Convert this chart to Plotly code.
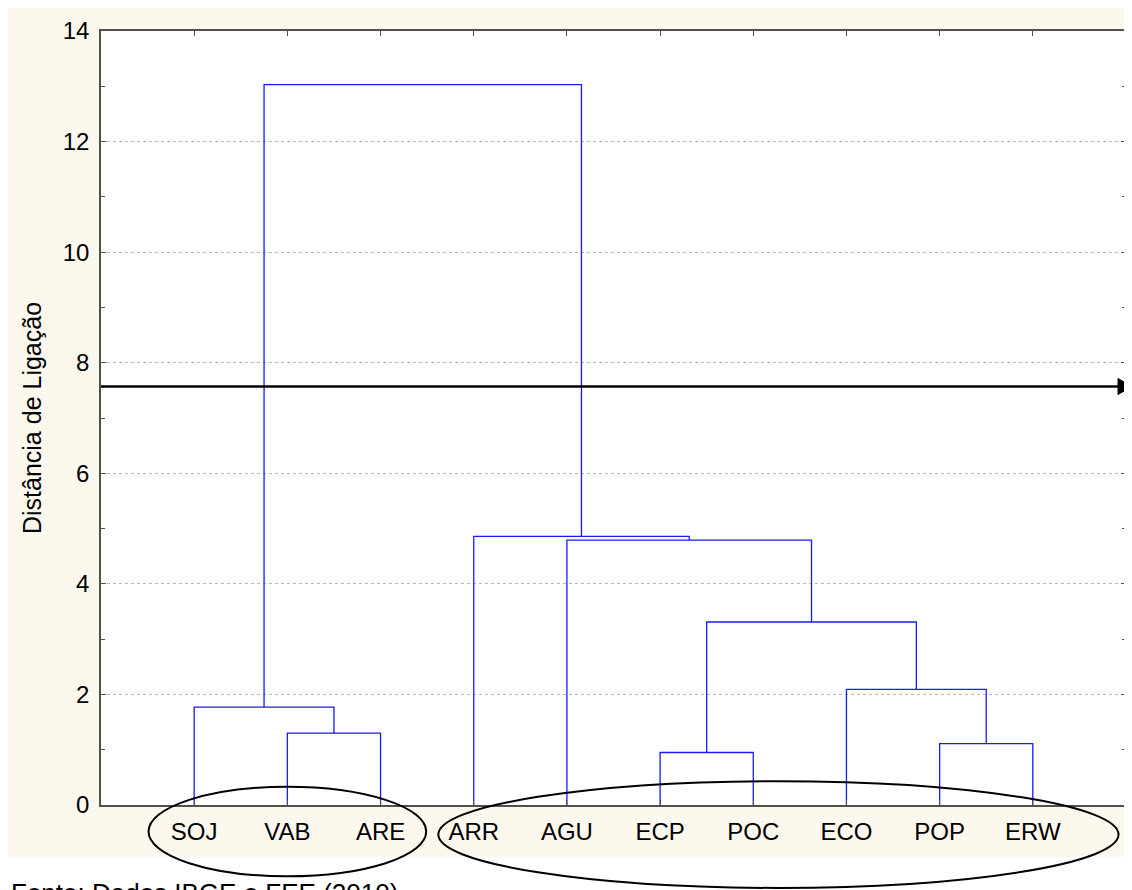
import plotly.graph_objects as go

# ---- data ----
labels = ["SOJ", "VAB", "ARE", "ARR", "AGU", "ECP", "POC", "ECO", "POP", "ERW"]
# linkage: (child_a, child_b, height); new cluster ids start at len(labels)
merge_a = [1, 0, 5, 8, 7, 12, 4, 3, 11]
merge_b = [2, 10, 6, 9, 13, 14, 15, 16, 17]
merge_h = [1.30, 1.77, 0.95, 1.11, 2.09, 3.31, 4.79, 4.86, 13.03]
cut_height = 7.57
y_ticks = [0, 2, 4, 6, 8, 10, 12, 14]
# ellipses around the groups (x extents, y extents in data units)
ellipse_x = [(0.51, 3.49), (3.62, 10.92)]
ellipse_y = [(-1.29, 0.33), (-1.50, 0.43)]

XMAX = len(labels) + 1
YMAX = 14

# ---- build dendrogram polylines ----
xpos = {i: i + 1 for i in range(len(labels))}
ypos = {i: 0.0 for i in range(len(labels))}
xs, ys = [], []
for k, (a, b, h) in enumerate(zip(merge_a, merge_b, merge_h)):
    nid = len(labels) + k
    xs += [xpos[a], xpos[a], xpos[b], xpos[b], None]
    ys += [ypos[a], h, h, ypos[b], None]
    xpos[nid] = (xpos[a] + xpos[b]) / 2
    ypos[nid] = h

fig = go.Figure()
fig.add_trace(go.Scatter(x=xs, y=ys, mode="lines",
                         line=dict(color="#1a1aff", width=1.3),
                         hoverinfo="skip", showlegend=False, cliponaxis=False))

# page body has an 8px margin, so the figure starts at (8, 8) of the window
OFF = 8
W, H = 1132 - OFF, 890 - OFF
L, R, T, B = 93, 6, 23, 85
pw, ph = W - L - R, H - T - B

def px_to_paper_x(p):  # p in window pixels
    return (p - OFF - L) / pw

def px_to_paper_y(p):
    return (H - B - (p - OFF)) / ph

shapes = [
    dict(type="rect", xref="paper", yref="paper", layer="below",
         x0=px_to_paper_x(0), x1=px_to_paper_x(1140),
         y0=px_to_paper_y(857), y1=px_to_paper_y(0),
         fillcolor="#fdf8ee", line=dict(width=0)),
    dict(type="rect", xref="paper", yref="paper", layer="below",
         x0=0, x1=1, y0=0, y1=1, fillcolor="white", line=dict(width=0)),
]
for (x0, x1), (y0, y1) in zip(ellipse_x, ellipse_y):
    shapes.append(dict(type="circle", xref="paper", yref="paper",
                       x0=x0 / XMAX, x1=x1 / XMAX, y0=y0 / YMAX, y1=y1 / YMAX,
                       line=dict(color="black", width=2)))

# cut line with arrow head
yc = cut_height / YMAX
head_len, head_half = 14, 8
tip = px_to_paper_x(1132)
base = px_to_paper_x(1132 - head_len)
hh = head_half / ph
shapes.append(dict(type="line", xref="paper", yref="paper",
                   x0=0, x1=base, y0=yc, y1=yc,
                   line=dict(color="black", width=2.6)))
shapes.append(dict(type="path", xref="paper", yref="paper",
                   path=f"M {base},{yc - hh} L {tip},{yc} L {base},{yc + hh} Z",
                   fillcolor="black", line=dict(color="black", width=1)))

annotations = [
    dict(xref="paper", yref="paper", x=px_to_paper_x(9), y=px_to_paper_y(876),
         xanchor="left", yanchor="top", showarrow=False,
         text="Fonte: Dados IBGE e FEE (2010)",
         font=dict(family="Liberation Sans, Arial", size=26, color="black")),
]

axis_line = dict(showline=True, linecolor="#505050", linewidth=1.5, mirror="ticks",
                 automargin=False)

fig.update_layout(
    width=W, height=H,
    margin=dict(l=L, r=R, t=T, b=B, pad=0),
    paper_bgcolor="white", plot_bgcolor="white",
    font=dict(family="Liberation Sans, Arial", color="black"),
    shapes=shapes, annotations=annotations,
    xaxis=dict(range=[0, XMAX], tickmode="array",
               tickvals=list(range(1, len(labels) + 1)), ticktext=labels,
               ticks="inside", ticklen=5, tickcolor="#505050",
               showgrid=False, zeroline=False, ticklabelstandoff=4,
               tickfont=dict(size=24), **axis_line),
    yaxis=dict(range=[0, YMAX], tickmode="array", tickvals=y_ticks,
               ticks="inside", ticklen=5, tickcolor="#505050",
               showgrid=True, gridcolor="#b8b8b8", griddash="dot", gridwidth=1,
               zeroline=False, tickfont=dict(size=24), ticklabelstandoff=5,
               minor=dict(dtick=1, ticks="inside", ticklen=4, tickcolor="#505050", showgrid=False),
               title=dict(text="Distância de Ligação", font=dict(size=25), standoff=14),
               **axis_line),
)

fig.write_html("out.html")
